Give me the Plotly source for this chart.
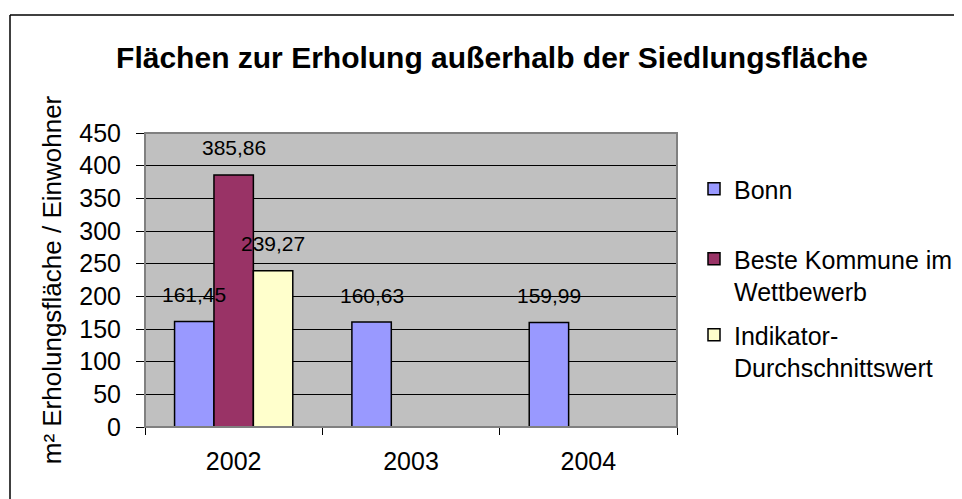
import plotly.graph_objects as go

years = ["2002", "2003", "2004"]
series_names = ["Bonn", "Beste Kommune im<br>Wettbewerb", "Indikator-<br>Durchschnittswert"]
bonn = [161.45, 160.63, 159.99]
beste = [385.86, None, None]
indikator = [239.27, None, None]
colors = ["#9999FF", "#993366", "#FFFFCC"]
yticks = [0, 50, 100, 150, 200, 250, 300, 350, 400, 450]
title = "Flächen zur Erholung außerhalb der Siedlungsfläche"
ytitle = "m² Erholungsfläche / Einwohner"

W, H = 962, 499
OFF = 8  # default page body margin in the browser
# layout in page pixel coordinates, converted to figure coordinates
L, R, T, B = 145 - OFF, 677 - OFF, 133 - OFF, 427 - OFF
FONT = "Liberation Sans, Arial, sans-serif"
bargap = 1 / 3

def px_x(p):
    return (p - OFF - L) / (R - L)

def px_y(p):
    return (B - (p - OFF)) / (B - T)

legend_ids = ["legend", "legend2", "legend3"]
legend_tops = [166, 236, 312]

fig = go.Figure()
all_series = [bonn, beste, indikator]
for name, vals, col, lid in zip(series_names, all_series, colors, legend_ids):
    fig.add_trace(go.Bar(
        x=years, y=vals, name=name, legend=lid, showlegend=True,
        marker=dict(color=col, line=dict(color="black", width=1.5)),
    ))

# data labels
nser = len(all_series)
bw = (1 - bargap) / nser
ann = []
for k, vals in enumerate(all_series):
    off = (k - (nser - 1) / 2) * bw
    for i, v in enumerate(vals):
        if v is None:
            continue
        ann.append(dict(x=i + off, y=v, xref="x", yref="y",
                        text=f"{v:.2f}".replace(".", ","), showarrow=False,
                        yshift=27, yanchor="middle",
                        font=dict(family=FONT, size=21, color="black")))

shapes = [
    dict(type="line", xref="paper", yref="paper", x0=px_x(10), x1=px_x(990),
         y0=px_y(15), y1=px_y(15), line=dict(color="black", width=1.5)),
    dict(type="line", xref="paper", yref="paper", x0=px_x(10), x1=px_x(10),
         y0=px_y(15), y1=px_y(530), line=dict(color="black", width=1.5)),
    dict(type="rect", xref="paper", yref="paper", x0=0, x1=1, y0=0, y1=1,
         line=dict(color="#808080", width=2), layer="above"),
]

legend_common = dict(xanchor="left", yanchor="top", valign="top",
                     font=dict(family=FONT, size=25, color="black"),
                     bgcolor="rgba(0,0,0,0)", itemwidth=30, visible=True)
legends = {}
for lid, top in zip(legend_ids, legend_tops):
    legends[lid] = dict(x=px_x(694), y=px_y(top), **legend_common)

fig.update_layout(
    width=W, height=H,
    margin=dict(l=L, r=W - R, t=T, b=H - B),
    showlegend=True,
    paper_bgcolor="white", plot_bgcolor="#C0C0C0",
    barmode="group", bargap=bargap, bargroupgap=0,
    font=dict(family=FONT, size=24, color="black"),
    title=dict(text=f"<b>{title}</b>", x=(492 - OFF) / W, xref="container",
               xanchor="center", y=1 - (57 - OFF) / H, yref="container",
               yanchor="middle",
               font=dict(family=FONT, size=30, color="black")),
    xaxis=dict(type="category", tickson="boundaries", ticks="outside", ticklen=7,
               tickcolor="black", showline=True, linecolor="black", linewidth=1,
               showgrid=False, tickfont=dict(size=25), ticklabelstandoff=12),
    yaxis=dict(range=[0, 450], tickvals=yticks, ticks="outside", ticklen=8,
               tickcolor="black", showline=True, linecolor="#606060", linewidth=1,
               gridcolor="black", gridwidth=1, zeroline=False,
               tickfont=dict(size=25), ticklabelstandoff=10,
               title=dict(text=ytitle, font=dict(size=26), standoff=10)),
    annotations=ann, shapes=shapes,
    **legends,
)

fig.write_html("out.html")
